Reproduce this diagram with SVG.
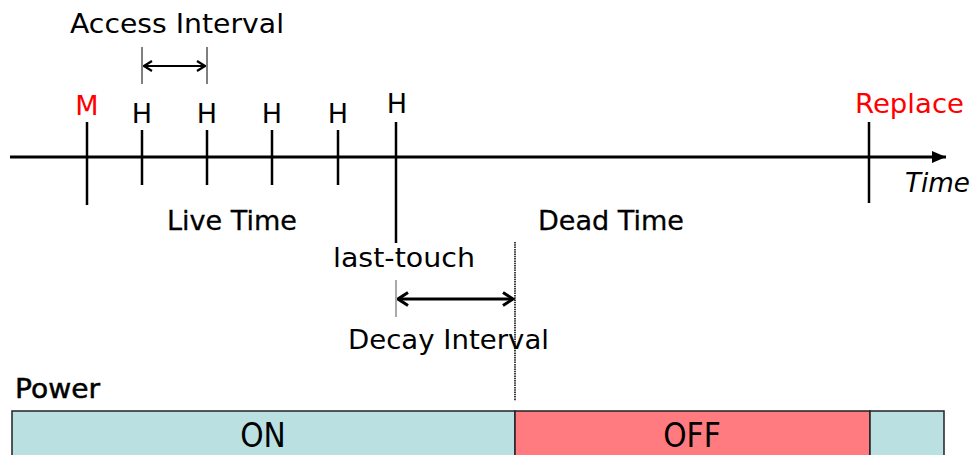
<svg xmlns="http://www.w3.org/2000/svg" width="974" height="455" viewBox="0 0 974 455">
<style>
  text { font-family: "DejaVu Sans", "Liberation Sans", sans-serif; font-size: 27px; fill: #000; }
  .red { fill: #FF0000; }
  .mid { text-anchor: middle; }
  .tick { stroke: #000; stroke-width: 2.5; fill: none; }
  .thin { stroke: #000; stroke-width: 1; fill: none; }
  .cond { font-family: "DejaVu Sans Condensed", "Liberation Sans Narrow", "DejaVu Sans", sans-serif; font-size: 33px; }
</style>
<defs>
  <marker id="tri" viewBox="0 0 14 12" refX="14" refY="6" markerWidth="14" markerHeight="12" markerUnits="userSpaceOnUse" orient="auto">
    <path d="M0,0 L14,6 L0,12 Z" fill="#000"/>
  </marker>
  <marker id="chev" viewBox="0 0 10 12" refX="9" refY="6" markerWidth="10" markerHeight="12" markerUnits="userSpaceOnUse" orient="auto-start-reverse">
    <path d="M1,1 L9,6 L1,11" fill="none" stroke="#000" stroke-width="2.2"/>
  </marker>
  <marker id="chev2" viewBox="0 0 13 16" refX="11.5" refY="8" markerWidth="13" markerHeight="16" markerUnits="userSpaceOnUse" orient="auto-start-reverse">
    <path d="M1.5,1.5 L11.5,8 L1.5,14.5" fill="none" stroke="#000" stroke-width="3"/>
  </marker>
</defs>

<g id="power-bar">
  <rect x="12" y="411" width="503" height="50" fill="#BAE0E2" stroke="#222" stroke-width="1.5"/>
  <rect x="515" y="411" width="355" height="50" fill="#FF7B7F" stroke="#222" stroke-width="1.5"/>
  <rect x="870" y="411" width="74" height="50" fill="#BAE0E2" stroke="#222" stroke-width="1.5"/>
  <text class="cond mid" x="263" y="447">ON</text>
  <text class="cond mid" x="692" y="447">OFF</text>
</g>
<g id="power-label"><text x="15" y="398" font-size="26" textLength="85" lengthAdjust="spacingAndGlyphs" stroke="#000" stroke-width="0.5">Power</text></g>

<g id="connectors">
  <line x1="10" y1="157" x2="946" y2="157" stroke="#000" stroke-width="3" marker-end="url(#tri)"/>
  <line x1="144" y1="66" x2="205" y2="66" stroke="#000" stroke-width="2.2" marker-start="url(#chev)" marker-end="url(#chev)"/>
  <line x1="398" y1="299" x2="513" y2="299" stroke="#000" stroke-width="3" marker-start="url(#chev2)" marker-end="url(#chev2)"/>
  <line x1="515" y1="242" x2="515" y2="401" stroke="#000" stroke-width="1.5" stroke-dasharray="1.5,0.8"/>
</g>

<g id="access-interval">
  <text x="70" y="33" textLength="214" lengthAdjust="spacingAndGlyphs">Access Interval</text>
  <line class="thin" x1="142" y1="47" x2="142" y2="84"/>
  <line class="thin" x1="207" y1="47" x2="207" y2="84"/>
</g>

<g id="miss">
  <line class="tick" x1="87" y1="122" x2="87" y2="205"/>
  <text class="red mid" x="87" y="115">M</text>
</g>
<g id="hit1">
  <line class="tick" x1="142" y1="130" x2="142" y2="185"/>
  <text class="mid" x="142" y="123">H</text>
</g>
<g id="hit2">
  <line class="tick" x1="207" y1="130" x2="207" y2="185"/>
  <text class="mid" x="207" y="123">H</text>
</g>
<g id="hit3">
  <line class="tick" x1="272" y1="130" x2="272" y2="185"/>
  <text class="mid" x="272" y="123">H</text>
</g>
<g id="hit4">
  <line class="tick" x1="338" y1="130" x2="338" y2="185"/>
  <text class="mid" x="338" y="123">H</text>
</g>
<g id="hit5">
  <line class="tick" x1="396" y1="122" x2="396" y2="243"/>
  <text class="mid" x="397" y="113" font-size="25">H</text>
</g>
<g id="replace">
  <line class="tick" x1="869" y1="122" x2="869" y2="203"/>
  <text class="red" x="855" y="113" textLength="109" lengthAdjust="spacingAndGlyphs">Replace</text>
</g>
<g id="time-label"><text x="905" y="192" font-style="italic" textLength="65" lengthAdjust="spacingAndGlyphs">Time</text></g>

<g id="live-time"><text x="167" y="230" textLength="130" lengthAdjust="spacingAndGlyphs" stroke="#000" stroke-width="0.3">Live Time</text></g>
<g id="dead-time"><text x="538" y="230" textLength="146" lengthAdjust="spacingAndGlyphs" stroke="#000" stroke-width="0.3">Dead Time</text></g>

<g id="decay-interval">
  <text x="333" y="267" textLength="142" lengthAdjust="spacingAndGlyphs">last-touch</text>
  <line x1="396" y1="280" x2="396" y2="317" stroke="#555" stroke-width="1"/>
  <text x="348" y="349" textLength="201" lengthAdjust="spacingAndGlyphs">Decay Interval</text>
</g>
</svg>
